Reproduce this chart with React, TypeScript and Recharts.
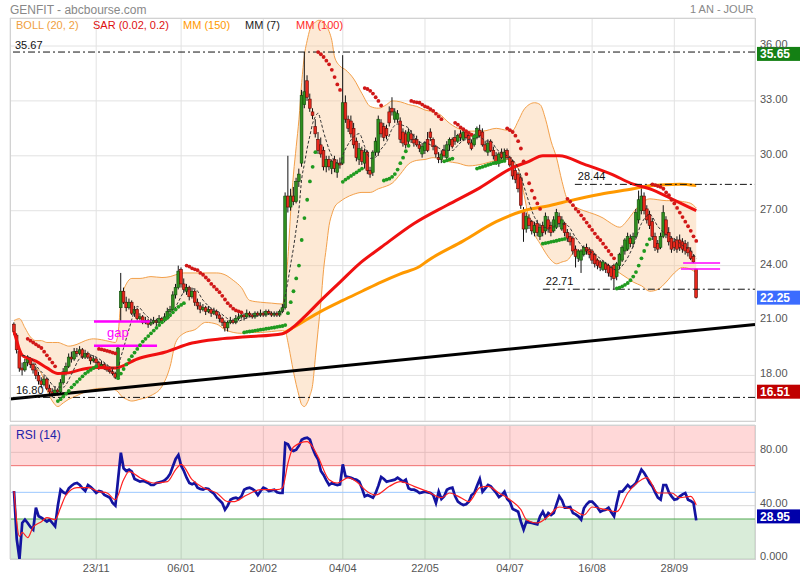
import {
  ComposedChart,
  Bar,
  Line,
  Area,
  Scatter,
  XAxis,
  YAxis,
  CartesianGrid,
  ReferenceLine,
  ReferenceArea,
} from 'recharts';

const FONT = '"Liberation Sans", Arial, Helvetica, sans-serif';

// daily candles, oldest first (index 0..249)
const opens = [
  20.8, 20.2, 19.3, 18.4, 18.3, 18.7, 18.9, 18.6, 18.3, 18.0,
  17.7, 17.5, 17.8, 17.3, 17.1, 17.0, 17.2, 17.1, 17.6, 18.2,
  18.5, 19.0, 18.9, 19.3, 19.2, 19.4, 19.0, 19.2, 19.0, 18.8,
  18.9, 18.7, 18.5, 18.6, 18.4, 18.3, 18.2, 18.1, 17.9, 21.7,
  22.6, 22.0, 21.7, 22.0, 21.4, 21.6, 21.1, 21.2, 20.9, 21.0,
  20.8, 20.9, 21.0, 20.9, 21.1, 21.0, 21.2, 21.5, 21.6, 22.4,
  22.8, 23.8, 23.0, 22.6, 22.8, 22.3, 22.6, 22.0, 21.8, 21.6,
  21.7, 21.5, 21.6, 21.4, 21.5, 21.3, 21.1, 20.9, 20.6, 20.9,
  21.0, 20.9, 21.1, 21.2, 21.3, 21.2, 21.4, 21.3, 21.2, 21.4,
  21.3, 21.4, 21.3, 21.5, 21.4, 21.3, 21.4, 21.3, 21.5, 21.7,
  27.8, 27.2, 27.8, 27.5, 28.6, 29.6, 32.8, 34.1, 33.1, 32.4,
  31.6, 30.9, 30.6, 30.3, 29.4, 29.8, 29.3, 29.8, 29.1, 29.6,
  29.6, 32.9, 32.0, 31.9, 31.5, 30.8, 29.8, 30.3, 29.6, 30.2,
  29.2, 29.1, 30.2, 30.2, 31.8, 31.6, 31.5, 32.4, 32.6, 32.0,
  32.0, 31.9, 31.3, 31.2, 30.8, 31.2, 30.9, 30.9, 30.6, 30.1,
  30.3, 30.9, 31.3, 30.9, 30.5, 29.9, 29.8, 30.3, 29.9, 30.6,
  30.9, 31.0, 30.8, 31.2, 30.9, 31.3, 31.1, 30.7, 30.6, 31.0,
  31.4, 31.3, 30.6, 30.2, 30.8, 30.3, 30.0, 29.6, 30.2, 29.8,
  30.3, 29.9, 29.7, 29.2, 29.0, 28.8, 27.0, 26.0, 26.6, 26.4,
  25.8, 26.3, 25.6, 26.2, 25.9, 26.5, 26.2, 25.9, 26.1, 26.7,
  26.0, 26.3, 25.8, 25.6, 25.5, 24.9, 24.4, 24.3, 24.6, 25.0,
  24.9, 24.8, 24.6, 24.3, 24.2, 23.8, 24.1, 24.0, 23.9, 24.0,
  23.4, 24.0, 24.3, 24.8, 24.9, 25.5, 25.2, 25.6, 26.5, 27.0,
  27.8, 27.1, 26.8, 26.4, 25.6, 25.2, 25.0, 25.6, 26.5, 25.8,
  25.5, 25.3, 25.4, 25.4, 25.3, 25.2, 25.0, 24.8, 24.5, 23.81,
];
const highs = [
  20.9, 20.3, 19.4, 18.7, 18.9, 19.1, 19.0, 18.7, 18.5, 18.2,
  17.9, 18.0, 17.9, 17.5, 17.3, 17.4, 17.3, 17.8, 18.4, 18.7,
  19.2, 19.3, 19.5, 19.5, 19.6, 19.5, 19.4, 19.3, 19.1, 19.1,
  19.0, 18.8, 18.8, 18.7, 18.6, 18.5, 18.4, 18.2, 19.62, 23.6,
  22.8, 22.3, 22.2, 22.1, 21.8, 21.7, 21.4, 21.3, 21.2, 21.1,
  21.1, 21.2, 21.1, 21.3, 21.2, 21.4, 21.7, 21.8, 22.6, 23.0,
  24.0, 23.9, 23.3, 23.0, 22.9, 22.8, 22.7, 22.2, 22.0, 21.9,
  21.8, 21.8, 21.7, 21.7, 21.6, 21.4, 21.2, 21.0, 21.0, 21.2,
  21.1, 21.3, 21.4, 21.5, 21.4, 21.6, 21.5, 21.4, 21.5, 21.5,
  21.6, 21.5, 21.6, 21.6, 21.5, 21.5, 21.5, 21.6, 21.9, 28.0,
  30.0, 28.2, 28.3, 28.8, 29.3, 33.6, 35.67, 34.4, 33.4, 32.6,
  32.0, 31.3, 31.0, 30.5, 30.0, 30.0, 29.8, 30.0, 29.8, 29.9,
  35.5, 33.3, 32.2, 32.2, 31.8, 31.0, 30.7, 30.5, 30.4, 30.3,
  29.4, 30.3, 31.0, 32.2, 32.0, 31.8, 31.7, 32.7, 33.2, 32.6,
  32.5, 32.1, 31.5, 31.4, 31.5, 31.4, 31.2, 31.1, 30.8, 30.7,
  30.8, 31.3, 31.5, 31.0, 30.6, 30.2, 30.3, 30.6, 30.8, 31.0,
  31.0, 31.4, 31.2, 31.4, 31.35, 31.35, 31.3, 30.9, 31.2, 31.6,
  31.7, 31.5, 30.8, 30.9, 30.9, 30.5, 30.2, 30.2, 30.4, 30.4,
  30.4, 30.0, 29.8, 29.4, 29.1, 28.9, 27.2, 26.9, 26.8, 26.5,
  26.4, 26.5, 26.3, 26.4, 26.9, 26.7, 26.4, 26.7, 27.1, 26.9,
  26.7, 26.4, 26.0, 25.8, 25.6, 25.1, 24.9, 24.9, 25.1, 25.2,
  25.0, 24.9, 24.7, 24.4, 24.3, 24.3, 24.2, 24.1, 24.0, 24.1,
  24.2, 24.7, 25.1, 25.5, 25.8, 25.7, 25.8, 27.1, 28.1, 28.44,
  28.0, 27.3, 27.0, 26.6, 25.8, 25.4, 25.8, 27.3, 26.7, 26.1,
  25.6, 25.5, 25.6, 25.7, 25.5, 25.4, 25.3, 25.0, 24.6, 23.81,
];
const lows = [
  20.2, 19.2, 18.2, 18.0, 18.2, 18.5, 18.4, 18.1, 17.8, 17.5,
  17.3, 17.4, 17.2, 16.9, 16.8, 16.9, 16.9, 17.0, 17.5, 18.0,
  18.4, 18.7, 18.8, 19.0, 19.1, 18.9, 18.9, 18.9, 18.6, 18.7,
  18.5, 18.3, 18.4, 18.3, 18.2, 18.1, 18.0, 17.8, 17.8, 20.95,
  21.9, 21.5, 21.6, 21.3, 21.2, 21.0, 21.0, 20.8, 20.8, 20.6,
  20.7, 20.8, 20.7, 20.8, 20.9, 20.9, 21.1, 21.3, 21.5, 22.2,
  22.7, 22.8, 22.5, 22.4, 22.1, 22.2, 21.8, 21.6, 21.4, 21.5,
  21.3, 21.4, 21.2, 21.3, 21.1, 20.9, 20.7, 20.4, 20.4, 20.8,
  20.8, 20.8, 21.0, 21.1, 21.0, 21.1, 21.2, 21.1, 21.1, 21.2,
  21.2, 21.2, 21.2, 21.3, 21.2, 21.2, 21.2, 21.2, 21.4, 21.6,
  26.9, 27.0, 27.3, 27.4, 28.3, 29.4, 32.6, 33.0, 32.4, 32.0,
  31.0, 30.1, 29.9, 29.2, 29.1, 29.2, 29.0, 29.1, 28.8, 29.3,
  29.5, 31.8, 31.3, 31.0, 30.4, 29.7, 29.5, 29.5, 29.3, 29.0,
  28.8, 28.9, 30.0, 30.0, 31.0, 30.8, 30.9, 31.6, 32.2, 31.8,
  31.8, 30.7, 30.5, 30.4, 30.6, 30.7, 30.5, 30.5, 30.2, 29.9,
  30.1, 30.2, 30.8, 30.3, 29.9, 29.6, 29.6, 29.9, 29.7, 30.3,
  30.4, 30.6, 30.7, 30.8, 30.8, 30.9, 30.6, 30.3, 30.5, 30.9,
  31.0, 30.5, 30.2, 30.0, 30.2, 29.8, 29.5, 29.4, 29.8, 29.7,
  29.8, 29.4, 28.7, 28.5, 28.0, 27.1, 25.3, 25.8, 26.0, 25.7,
  25.6, 25.6, 25.4, 25.6, 25.7, 25.8, 25.6, 25.8, 26.0, 26.1,
  25.9, 25.6, 25.3, 25.1, 24.6, 23.9, 24.2, 23.6, 24.5, 24.6,
  24.4, 24.1, 23.9, 23.8, 23.7, 23.7, 23.6, 23.4, 23.2, 22.71,
  23.2, 23.8, 24.2, 24.6, 24.8, 25.0, 25.0, 25.5, 26.3, 26.8,
  26.8, 26.3, 26.0, 25.4, 24.8, 24.7, 24.9, 25.5, 25.5, 25.1,
  24.7, 24.8, 24.7, 24.8, 24.7, 24.6, 24.5, 24.3, 24.14, 22.2,
];
const closes = [
  20.4, 19.4, 18.4, 18.3, 18.7, 18.9, 18.6, 18.3, 18.0, 17.7,
  17.5, 17.8, 17.3, 17.1, 17.0, 17.2, 17.1, 17.6, 18.2, 18.5,
  19.0, 18.9, 19.3, 19.2, 19.4, 19.0, 19.2, 19.0, 18.8, 18.9,
  18.7, 18.5, 18.6, 18.4, 18.3, 18.2, 18.1, 17.9, 19.5, 22.6,
  22.0, 21.7, 22.0, 21.4, 21.6, 21.1, 21.2, 20.9, 21.0, 20.8,
  20.9, 21.0, 20.9, 21.1, 21.0, 21.2, 21.5, 21.6, 22.4, 22.8,
  23.7, 23.0, 22.7, 22.8, 22.3, 22.6, 22.0, 21.8, 21.6, 21.7,
  21.5, 21.6, 21.4, 21.5, 21.3, 21.1, 20.9, 20.6, 20.9, 21.0,
  20.9, 21.1, 21.2, 21.3, 21.2, 21.4, 21.3, 21.2, 21.4, 21.3,
  21.4, 21.3, 21.5, 21.4, 21.3, 21.4, 21.3, 21.5, 21.7, 27.8,
  27.2, 27.8, 27.5, 28.6, 29.0, 33.3, 33.5, 33.2, 32.6, 32.2,
  31.2, 30.3, 30.1, 29.4, 29.8, 29.4, 29.7, 29.3, 29.6, 29.5,
  32.9, 32.0, 31.5, 31.2, 30.6, 29.9, 30.4, 29.7, 30.2, 29.2,
  29.0, 30.2, 30.8, 32.0, 31.2, 31.0, 31.1, 31.8, 32.4, 32.4,
  32.3, 30.9, 30.7, 30.6, 31.3, 30.9, 30.7, 30.6, 30.4, 30.5,
  30.7, 30.3, 31.0, 30.5, 30.1, 29.8, 30.1, 30.0, 30.6, 30.9,
  30.5, 30.8, 31.1, 31.0, 31.3, 31.0, 30.7, 30.4, 31.1, 31.5,
  31.1, 30.6, 30.3, 30.7, 30.3, 30.0, 29.7, 30.1, 29.9, 30.2,
  29.9, 29.5, 28.9, 28.7, 28.2, 27.3, 26.0, 26.7, 26.2, 25.9,
  26.2, 25.8, 26.1, 25.8, 26.7, 26.0, 25.8, 26.5, 26.9, 26.3,
  26.5, 25.8, 25.5, 25.3, 24.8, 24.5, 24.8, 24.8, 25.0, 24.8,
  24.6, 24.3, 24.1, 24.0, 23.9, 24.2, 23.8, 23.6, 23.4, 23.3,
  24.1, 24.6, 25.0, 25.4, 25.6, 25.2, 25.6, 26.9, 27.6, 27.8,
  27.0, 26.5, 26.2, 25.6, 25.0, 24.9, 25.6, 26.9, 25.7, 25.3,
  24.9, 25.0, 24.9, 25.0, 24.9, 24.8, 24.7, 24.4, 24.2, 22.25,
];

// parabolic SAR, one value per day (null = not shown)
const sar = [
  null, null, null, null, null,
  20.0, 19.9, 19.8, 19.7, 19.6, 19.5, 19.3, 19.1, 18.9, 18.7, 18.5,
  16.6, 16.7, 16.85, 17.0, 17.15, 17.35, 17.5, 17.65, 17.8, 17.95, 18.1, 18.2, 18.3, 18.4, 18.5,
  19.45, 19.42, 19.38, 19.34, 19.3, 19.25, 19.2,
  17.85, 18.1, 18.35, 18.6, 18.85, 19.05, 19.25, 19.45, 19.65, 19.85, 20.0, 20.15, 20.3,
  20.45, 20.6, 20.75, 20.9, 21.05, 21.15, 21.3, 21.45, 21.6, 21.75, 21.85, 21.95,
  24.0, 23.95, 23.85, 23.8, 23.75, 23.6, 23.5, 23.35, 23.2, 23.0, 22.85, 22.7, 22.55, 22.35,
  22.15, 21.95, 21.8, 21.65, 21.55, 21.5, 21.45,
  20.35, 20.38, 20.4, 20.42, 20.45, 20.47, 20.5, 20.52, 20.55, 20.57, 20.6, 20.62, 20.65, 20.68, 20.7,
  20.75, 21.4, 22.0, 22.6, 23.3, 24.0, 25.4, 26.6, 27.6, 28.6, 29.4, 30.2,
  35.67, 35.55, 35.4, 35.2, 35.0, 34.7, 34.3, 33.9, 33.6,
  28.58, 28.7, 28.8, 28.9, 29.0, 29.1, 29.2, 29.3,
  33.7, 33.65, 33.55, 33.4, 33.2, 33.0, 32.75,
  28.65, 28.7, 28.75, 28.85, 29.0, 29.25, 29.6, 29.9, 30.25, 30.55,
  33.0, 32.95, 32.92, 32.9, 32.8, 32.7, 32.65, 32.55, 32.45, 32.3, 32.15, 32.0,
  29.7, 29.75, 29.8, 29.85,
  31.8, 31.7, 31.55, 31.45, 31.35, 31.25, 31.15, 31.05,
  29.3, 29.35, 29.4, 29.45, 29.5, 29.55, 29.6, 29.62, 29.65, 29.7, 29.72,
  31.5, 31.4, 31.3, 31.1, 30.8, 30.4, 29.7, 29.0, 28.5, 28.1, 27.7, 27.4, 27.1,
  25.2, 25.23, 25.26, 25.3, 25.33, 25.36, 25.4, 25.43, 25.46,
  27.65, 27.5, 27.3, 27.1, 26.95, 26.75, 26.55, 26.35, 26.15, 25.95, 25.75, 25.55, 25.4, 25.2,
  25.0, 24.8, 24.6, 24.4,
  22.75, 22.8, 22.87, 22.95, 23.05, 23.2, 23.4, 23.65, 24.0, 24.4, 24.8, 25.15, 25.45,
  28.44, 28.4, 28.35, 28.3, 28.2, 28.0, 27.85, 27.6, 27.4, 27.15, 26.9, 26.65, 26.4, 26.15,
  25.9, 25.6, 25.35,
];

// [day, value] samples of the moving averages
const mm7: [number, number][] = [
  [3, 19.1], [6, 18.96], [9, 18.36], [12, 17.89], [15, 17.37], [18, 17.36], [21, 18.07],
  [24, 18.93], [27, 19.14], [30, 19.0], [33, 18.7], [36, 18.4], [38, 18.43], [39, 19.0],
  [40, 19.5], [42, 20.54], [45, 21.77], [48, 21.31], [51, 20.99], [54, 20.96], [57, 21.19],
  [60, 22.03], [63, 22.71], [66, 22.73], [69, 22.11], [72, 21.66], [75, 21.44], [78, 21.1],
  [81, 20.93], [84, 21.09], [87, 21.24], [90, 21.31], [93, 21.37], [96, 21.37], [98, 21.44],
  [99, 22.34], [100, 23.17], [101, 24.1], [102, 24.97], [103, 26.01], [104, 27.09],
  [105, 28.74], [106, 29.56], [107, 30.41], [108, 31.1], [109, 31.77], [110, 32.14],
  [111, 32.33], [112, 31.87], [113, 31.29], [114, 30.8], [115, 30.34], [116, 29.99],
  [117, 29.71], [118, 29.61], [119, 29.53], [120, 30.03], [122, 30.64], [124, 31.04],
  [126, 31.21], [128, 30.5], [130, 29.86], [132, 29.93], [134, 30.37], [136, 30.76],
  [138, 31.47], [140, 31.74], [142, 31.66], [144, 31.51], [146, 31.06], [148, 30.74],
  [150, 30.73], [152, 30.6], [154, 30.5], [156, 30.36], [158, 30.3], [160, 30.29],
  [162, 30.57], [164, 30.85], [166, 30.9], [168, 30.95], [170, 31.05], [172, 30.81],
  [174, 30.8], [176, 30.39], [178, 30.14], [181, 29.9], [184, 29.33], [187, 27.9],
  [190, 26.64], [193, 26.1], [196, 26.06], [199, 26.29], [202, 26.19], [205, 25.53],
  [208, 24.96], [211, 24.69], [214, 24.39], [217, 23.99], [220, 23.76], [223, 24.2],
  [226, 25.07], [229, 26.3], [232, 26.8], [235, 26.14], [238, 25.7], [241, 25.47],
  [244, 25.1], [247, 24.81], [249, 24.4],
];
const mm100: [number, number][] = [
  [0, 20.4], [1, 19.9], [2, 19.4], [3, 19.1], [5, 18.95], [8, 18.78], [12, 18.41],
  [16, 18.1], [20, 18.14], [25, 18.34], [30, 18.43], [37, 18.41], [45, 18.9], [55, 19.27],
  [65, 19.77], [75, 19.99], [85, 20.11], [98, 20.28], [102, 20.65], [106, 21.2],
  [112, 22.1], [119, 23.1], [126, 24.1], [134, 25.0], [146, 26.3], [158, 27.3],
  [170, 28.25], [182, 29.35], [188, 29.7], [193, 30.0], [199, 30.0], [208, 29.55],
  [218, 29.0], [226, 28.45], [232, 28.2], [240, 27.65], [249, 27.0],
];
const mm150: [number, number][] = [
  [98, 20.28], [104, 20.8], [112, 21.5], [120, 22.1], [127, 22.6], [134, 23.1],
  [141, 23.55], [148, 23.95], [151, 24.27], [164, 25.35], [176, 26.4], [186, 27.0],
  [196, 27.3], [203, 27.55], [214, 27.9], [226, 28.2], [232, 28.36], [243, 28.45],
  [249, 28.38],
];
// [day, lower, upper] samples of the Bollinger band (20, 2)
const bollinger: [number, number, number][] = [
  [0, 20.4, 21.0], [2, 19.5, 21.1], [4, 18.9, 20.6], [6, 18.6, 20.1], [8, 18.4, 19.9],
  [10, 18.1, 19.9], [12, 17.2, 19.8], [14, 16.6, 19.8], [16, 16.3, 19.8], [18, 16.5, 19.7],
  [20, 16.7, 19.6], [23, 16.9, 19.7], [26, 17.1, 19.9], [29, 17.25, 20.0], [32, 17.3, 19.95],
  [35, 17.3, 19.85], [37, 17.2, 19.8], [38, 17.1, 20.3], [39, 16.9, 22.0], [41, 16.7, 23.0],
  [43, 16.6, 23.3], [46, 16.7, 23.3], [50, 16.9, 23.4], [54, 17.4, 23.35], [57, 18.5, 23.4],
  [59, 19.8, 23.5], [62, 20.3, 23.6], [66, 20.5, 23.6], [70, 20.9, 23.6], [74, 20.8, 23.6],
  [77, 20.5, 23.5], [80, 20.35, 23.2], [83, 20.3, 22.8], [86, 20.35, 22.1], [90, 20.35, 22.0],
  [94, 20.4, 21.95], [98, 20.45, 21.9], [99, 20.4, 22.8], [100, 19.8, 24.5], [101, 19.0, 27.0],
  [102, 18.2, 29.0], [103, 17.5, 30.5], [104, 16.9, 32.0], [105, 16.4, 34.0], [106, 16.3, 35.5],
  [107, 16.5, 36.3], [108, 16.9, 36.9], [109, 17.5, 37.2], [110, 19.0, 37.3], [111, 20.5, 37.4],
  [112, 22.0, 37.4], [113, 23.8, 37.3], [114, 25.0, 37.1], [115, 26.2, 36.8], [116, 26.8, 36.3],
  [117, 27.2, 35.4], [119, 27.5, 34.9], [121, 27.7, 34.7], [124, 27.9, 34.2], [127, 28.0, 33.4],
  [130, 28.0, 32.7], [133, 28.2, 32.6], [136, 28.35, 32.8], [138, 28.5, 33.0], [141, 29.0, 32.95],
  [144, 29.55, 32.8], [147, 29.75, 32.7], [150, 29.8, 32.5], [153, 29.9, 32.4], [156, 29.8, 32.2],
  [158, 29.7, 31.9], [162, 29.6, 31.5], [166, 29.45, 31.35], [171, 29.55, 31.35], [176, 29.75, 31.5],
  [180, 29.8, 31.4], [182, 29.7, 31.4], [184, 29.3, 31.9], [186, 28.0, 32.5], [188, 26.5, 32.8],
  [190, 25.7, 32.9], [192, 25.2, 32.8], [194, 24.7, 32.0], [196, 24.3, 30.8], [198, 24.1, 29.9],
  [200, 24.2, 28.6], [202, 24.3, 27.6], [205, 24.8, 27.2], [208, 24.8, 27.0], [212, 24.4, 26.8],
  [215, 24.1, 26.6], [218, 23.9, 26.3], [221, 23.6, 26.1], [224, 23.3, 26.5], [226, 23.1, 26.9],
  [229, 22.9, 27.4], [232, 22.6, 27.65], [235, 22.7, 27.6], [238, 23.1, 27.55], [241, 23.6, 27.55],
  [244, 23.9, 27.5], [247, 23.8, 27.4], [249, 23.6, 27.15],
];

// RSI (14), one value per day, and its signal line samples
const rsi = [
  51, 15, 0, 27, 29.5, 27, 24, 22, 38.5, 32,
  31, 29.5, 28, 29.5, 27, 24.5, 40, 52, 50, 49,
  53, 55, 56.5, 57, 55.5, 53, 51, 55.5, 54, 52,
  49.5, 51, 50.5, 48, 47, 46, 42, 40, 60, 79.7,
  68, 66, 67, 65.5, 60, 59, 58, 58.5, 58, 57,
  55.5, 55.5, 57, 57.5, 58, 59, 61, 64, 69.5, 75,
  78, 70, 66, 61, 57, 56, 57, 53.5, 52.5, 52,
  53, 52.5, 50.5, 49, 46, 44, 42, 37, 40, 44.5,
  45.5, 46, 45, 47, 52, 53, 53.5, 52.5, 51, 48,
  51, 53.5, 52.5, 51, 51.5, 52, 50, 49.5, 49.5, 87,
  86, 82, 81, 82, 85, 89.5, 90.5, 91, 89.5, 83,
  78, 74.5, 66, 63, 59, 55.5, 57, 56, 55.5, 56,
  71, 62, 61.5, 61, 60, 59.5, 58, 53, 47, 48,
  47, 46, 49.5, 55, 61.5, 60, 58, 58.5, 59, 59.5,
  61, 59.5, 58, 59.5, 53, 52, 52, 51, 49.5, 50,
  50.5, 50, 49.5, 48, 42, 50.5, 45, 47, 52, 53,
  53.5, 47, 43, 41.5, 40.5, 41, 43, 48, 49.5, 55,
  60, 50.5, 53, 55.5, 54.5, 52, 49.5, 46.5, 48, 50.5,
  45, 43, 37.5, 36.5, 35.5, 28, 22, 28, 27.5, 27,
  26.5, 26, 32, 35.5, 31, 34.5, 33, 34.5, 41, 47,
  44, 38.5, 38.5, 39, 34.5, 33.5, 32, 29.5, 38, 41,
  43, 43, 41, 38.5, 35.5, 36.5, 37, 38.5, 35, 32,
  42, 50.5, 50.5, 53, 55.5, 53.5, 55, 57, 62, 67,
  64.5, 61, 57, 54.5, 50, 46, 44.5, 55.5, 55.5, 50,
  47, 44.5, 45, 47, 48.5, 49.5, 44.5, 43.5, 42, 28.95,
];
const rsiSignal: [number, number][] = [
  [0, 51], [2, 17], [3, 20], [5, 16], [7, 24], [10, 28], [12, 31], [15, 29.5], [17, 38.5],
  [19, 48], [23, 53.5], [27, 53.5], [31, 50.5], [34, 49.5], [37, 44.5], [40, 59.5], [42, 65.5],
  [46, 61], [51, 57], [56, 58], [59, 67], [61, 71], [65, 59.5], [69, 53.5], [74, 49.5],
  [78, 43], [80, 43], [85, 48], [90, 52], [96, 52], [98, 53.5], [100, 72], [102, 84],
  [107, 88], [109, 84], [111, 76.5], [115, 59.5], [118, 57], [122, 61], [125, 58], [129, 50.5],
  [132, 48], [137, 54.5], [141, 58], [146, 54.5], [151, 50.5], [156, 46], [159, 49.5],
  [163, 46], [166, 43], [170, 53.5], [173, 54.5], [177, 49.5], [181, 44.5], [185, 37],
  [187, 29.5], [191, 27], [195, 32], [199, 39], [204, 37], [208, 33], [211, 39], [216, 37],
  [220, 35.5], [224, 49.5], [229, 59.5], [231, 61], [235, 49.5], [240, 49.5], [243, 46],
  [247, 47], [249, 40.5],
];

const dateTicks = [30, 61, 91, 120, 150, 181, 211, 241];
const dateLabels = ['23/11', '06/01', '20/02', '04/04', '22/05', '04/07', '16/08', '28/09'];
const priceTicks = [18, 21, 24, 27, 30, 33, 36];
const rsiTicks = [0, 40, 80];

const X_DOMAIN: [number, number] = [-1.46, 270.44];
const PRICE_DOMAIN: [number, number] = [15.51, 37.53];

const rows: Record<string, any>[] = closes.map((c, i) => ({
  i,
  o: opens[i],
  h: highs[i],
  l: lows[i],
  c,
  range: [lows[i], highs[i]],
  rsi: rsi[i],
}));
mm7.forEach(([i, v]) => { rows[i].mm7 = v; });
mm100.forEach(([i, v]) => { rows[i].mm100 = v; });
mm150.forEach(([i, v]) => { rows[i].mm150 = v; });
bollinger.forEach(([i, lo, up]) => { rows[i].band = [lo, up]; });
rsiSignal.forEach(([i, v]) => { rows[i].sig = v; });

const sarPoints = sar
  .map((v, i) => (v == null ? null : { i, sar: v, below: v < closes[i] }))
  .filter(Boolean) as { i: number; sar: number; below: boolean }[];

function Candle(props: any) {
  const { x, y, width, height, payload } = props;
  if (!payload || height == null) return null;
  const { o, h, l, c } = payload;
  const cx = x + width / 2;
  const k = h > l ? height / (h - l) : 0;
  const top = y + (h - Math.max(o, c)) * k;
  const bot = y + (h - Math.min(o, c)) * k;
  const up = c >= o;
  return (
    <g>
      <line x1={cx} x2={cx} y1={y} y2={y + height} stroke="#111" strokeWidth={1} />
      <rect
        x={cx - 1.4}
        y={top}
        width={2.8}
        height={Math.max(bot - top, 0.8)}
        fill={up ? '#2f8f1f' : '#e8281c'}
        stroke={up ? '#0f4a0a' : '#5a0a05'}
        strokeWidth={0.6}
      />
    </g>
  );
}

function SarDot(props: any) {
  const { cx, cy, payload } = props;
  if (cx == null || cy == null) return null;
  return <circle cx={cx} cy={cy} r={1.9} fill={payload.below ? '#1f9a1f' : '#d01818'} />;
}

function AxisTick(props: any) {
  const { x, y, payload, zeroText, lift = 2 } = props;
  const v = payload.value as number;
  const txt = v === 0 && zeroText ? zeroText : v.toFixed(2);
  return (
    <text x={x} y={y - lift} dy="0.355em" textAnchor="start" fontSize={11} fill="#555" fontFamily={FONT}>
      {txt}
    </text>
  );
}

function ValueBox({ viewBox, text, color, dy = 0 }: any) {
  if (!viewBox) return null;
  const x = viewBox.x + viewBox.width + 2;
  const y = viewBox.y + dy;
  return (
    <g>
      <rect x={x} y={y - 7} width={43} height={14} fill={color} />
      <text x={x + 3} y={y + 4.5} fill="#fff" fontSize={12} fontWeight="bold" fontFamily={FONT}>
        {text}
      </text>
    </g>
  );
}

function LevelText({ viewBox, text, dx = 5, dy = -3, color = '#111', size = 11 }: any) {
  if (!viewBox) return null;
  return (
    <text x={viewBox.x + dx} y={viewBox.y + dy} fill={color} fontSize={size} fontFamily={FONT}>
      {text}
    </text>
  );
}

const dashDot = '7 3 2 3';
const tickStyle = { fontSize: 11, fill: '#555', fontFamily: FONT };

export default function App() {
  return (
    <div style={{ position: 'absolute', left: 0, top: 0, width: 800, height: 580, background: '#fff', fontFamily: FONT }}>
      <div style={{ position: 'absolute', left: 10, top: 3, fontSize: 12, color: '#888' }}>GENFIT - abcbourse.com</div>
      <div style={{ position: 'absolute', left: 690, top: 3, fontSize: 11, color: '#888' }}>1 AN - JOUR</div>

      {/* price panel */}
      <div style={{ position: 'absolute', left: 0, top: 0 }}>
        <ComposedChart width={800} height={422} data={rows} margin={{ top: 18, right: 0, left: 10, bottom: 1 }}>
          <CartesianGrid stroke="#e2e2e2" />
          <XAxis dataKey="i" type="number" domain={X_DOMAIN} ticks={dateTicks} allowDataOverflow hide />
          <YAxis
            orientation="right"
            width={45}
            domain={PRICE_DOMAIN}
            ticks={priceTicks}
            allowDataOverflow
            axisLine={false}
            tickLine={false}
            tickSize={0}
            tickMargin={5}
            tick={<AxisTick />}
          />
          <Area
            dataKey="band"
            type="monotone"
            connectNulls
            stroke="#f3a04a"
            strokeWidth={1}
            fill="#f9c690"
            fillOpacity={0.38}
            isAnimationActive={false}
            dot={false}
            activeDot={false}
          />
          <Bar dataKey="range" barSize={3} shape={<Candle />} isAnimationActive={false} />
          <Line dataKey="mm150" type="monotone" connectNulls stroke="#ff9900" strokeWidth={3} dot={false} activeDot={false} isAnimationActive={false} />
          <Line dataKey="mm100" type="monotone" connectNulls stroke="#f01010" strokeWidth={3} dot={false} activeDot={false} isAnimationActive={false} />
          <Line dataKey="mm7" type="monotone" connectNulls stroke="#333" strokeWidth={1} strokeDasharray="3 2" dot={false} activeDot={false} isAnimationActive={false} />
          <Scatter data={sarPoints} dataKey="sar" shape={<SarDot />} isAnimationActive={false} />

          <ReferenceLine
            segment={[{ x: -1.46, y: 16.71 }, { x: 270.44, y: 20.78 }]}
            stroke="#000"
            strokeWidth={3}
            ifOverflow="visible"
          />
          <ReferenceLine y={35.67} stroke="#111" strokeDasharray={dashDot} label={<LevelText text="35.67" dy={-3} />} />
          <ReferenceLine y={16.8} stroke="#111" strokeDasharray={dashDot} label={<LevelText text="16.80" dx={6} dy={-3} />} />
          <ReferenceLine
            segment={[{ x: 204.7, y: 28.44 }, { x: 270.44, y: 28.44 }]}
            stroke="#111"
            strokeDasharray={dashDot}
            label={<LevelText text="28.44" dx={3} dy={-4} />}
          />
          <ReferenceLine
            segment={[{ x: 193, y: 22.71 }, { x: 270.44, y: 22.71 }]}
            stroke="#111"
            strokeDasharray={dashDot}
            label={<LevelText text="22.71" dx={3} dy={-4} />}
          />
          <ReferenceLine segment={[{ x: 29.2, y: 20.95 }, { x: 49.6, y: 20.95 }]} stroke="#ff00ff" strokeWidth={2.5} />
          <ReferenceLine
            segment={[{ x: 29.2, y: 19.62 }, { x: 52.2, y: 19.62 }]}
            stroke="#ff00ff"
            strokeWidth={2.5}
            label={<LevelText text="gap" dx={13} dy={-9} color="#ff00ff" size={13} />}
          />
          <ReferenceLine segment={[{ x: 244.2, y: 24.14 }, { x: 257.7, y: 24.14 }]} stroke="#ff00ff" strokeWidth={1.5} />
          <ReferenceLine segment={[{ x: 243.4, y: 23.81 }, { x: 257.7, y: 23.81 }]} stroke="#ff00ff" strokeWidth={1.5} />

          <ReferenceLine y={35.65} stroke="none" label={<ValueBox text="35.65" color="#148014" dy={1.5} />} />
          <ReferenceLine y={22.25} stroke="none" label={<ValueBox text="22.25" color="#3b6cff" />} />
          <ReferenceLine y={16.51} stroke="none" label={<ValueBox text="16.51" color="#c00000" dy={-11} />} />
        </ComposedChart>
      </div>

      {/* legend row */}
      <div style={{ position: 'absolute', left: 16, top: 19, fontSize: 11, color: '#f0a040' }}>BOLL (20, 2)</div>
      <div style={{ position: 'absolute', left: 93, top: 19, fontSize: 11, color: '#dd1111' }}>SAR (0.02, 0.2)</div>
      <div style={{ position: 'absolute', left: 183, top: 19, fontSize: 11, color: '#ff9900' }}>MM (150)</div>
      <div style={{ position: 'absolute', left: 245, top: 19, fontSize: 11, color: '#222' }}>MM (7)</div>
      <div style={{ position: 'absolute', left: 296, top: 19, fontSize: 11, color: '#ff2a2a' }}>MM (100)</div>

      {/* RSI panel */}
      <div style={{ position: 'absolute', left: 0, top: 420 }}>
        <ComposedChart width={800} height={160} data={rows} margin={{ top: 5, right: 0, left: 10, bottom: 0 }}>
          <ReferenceArea y1={70} y2={100.5} fill="#ff8888" fillOpacity={0.33} stroke="none" ifOverflow="visible" />
          <ReferenceArea y1={0} y2={30} fill="#88c488" fillOpacity={0.32} stroke="none" />
          <CartesianGrid stroke="#d8d8d8" />
          <XAxis
            dataKey="i"
            type="number"
            domain={X_DOMAIN}
            ticks={dateTicks}
            allowDataOverflow
            height={21}
            axisLine={false}
            tickLine={false}
            tickSize={0}
            tickMargin={5}
            tick={tickStyle}
            tickFormatter={(v: number) => dateLabels[dateTicks.indexOf(v)] ?? ''}
          />
          <YAxis
            orientation="right"
            width={45}
            domain={[0, 100.5]}
            ticks={rsiTicks}
            allowDataOverflow
            axisLine={false}
            tickLine={false}
            tickSize={0}
            tickMargin={5}
            tick={<AxisTick zeroText="0.000" lift={3} />}
          />
          <ReferenceLine y={70} stroke="#f07070" />
          <ReferenceLine y={50} stroke="#9cc8ff" />
          <ReferenceLine y={30} stroke="#50a850" />
          <Line dataKey="rsi" type="linear" stroke="#1414a0" strokeWidth={2.7} dot={false} activeDot={false} isAnimationActive={false} />
          <Line dataKey="sig" type="monotone" connectNulls stroke="#ff2020" strokeWidth={1.2} dot={false} activeDot={false} isAnimationActive={false} />
          <ReferenceLine y={28.95} stroke="none" label={<ValueBox text="28.95" color="#0000aa" dy={-4} />} />
        </ComposedChart>
      </div>
      <div style={{ position: 'absolute', left: 16, top: 428, fontSize: 12, color: '#2222aa' }}>RSI (14)</div>

      {/* panel frames */}
      <div style={{ position: 'absolute', left: 10, top: 18, width: 746, height: 404, border: '1px solid #d2d2d2', boxSizing: 'border-box', pointerEvents: 'none' }} />
      <div style={{ position: 'absolute', left: 10, top: 425, width: 746, height: 135, border: '1px solid #d2d2d2', boxSizing: 'border-box', pointerEvents: 'none' }} />
    </div>
  );
}
